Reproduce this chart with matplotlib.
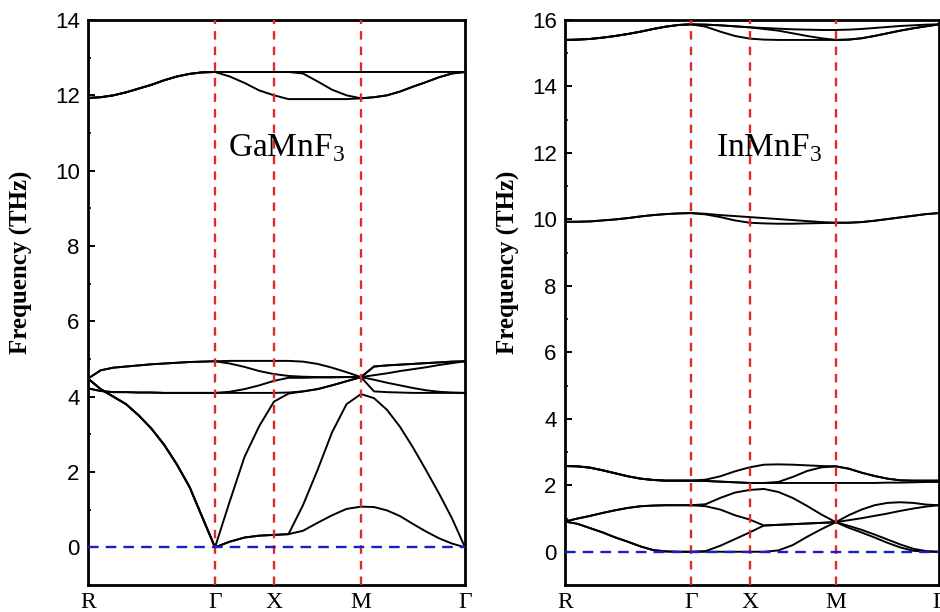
import matplotlib
matplotlib.use('Agg')
import matplotlib.pyplot as plt
from matplotlib.ticker import MultipleLocator
import numpy as np

plt.rcParams['font.family'] = 'Liberation Sans'
plt.rcParams['mathtext.fontset'] = 'custom'
plt.rcParams['mathtext.rm'] = 'Liberation Serif'

# high-symmetry path R - G - X - M - G, sample counts per segment
k_nodes = [0, 127, 186, 273, 377]
k_steps = [10, 4, 6, 8]
k_labels = ['R', 'Γ', 'X', 'M', 'Γ']

# ---------------- GaMnF3 (THz) ----------------
ga_acou_rg = [4.48, 4.2, 4.0, 3.8, 3.5, 3.15, 2.72, 2.2, 1.6, 0.8, 0.0]
ga_flat_rg = [4.22, 4.15, 4.12, 4.12, 4.11, 4.11, 4.1, 4.1, 4.1, 4.1, 4.1]
ga_top_rg = [4.48, 4.7, 4.77, 4.8, 4.83, 4.86, 4.88, 4.9, 4.92, 4.93, 4.94]
ga_high_rg = [11.93, 11.95, 12.0, 12.08, 12.18, 12.28, 12.4, 12.5, 12.57, 12.61, 12.62]
ga_top_mg = [4.8, 4.83, 4.85, 4.87, 4.89, 4.91, 4.93, 4.94]
ga_high_mg = [11.95, 12.0, 12.1, 12.23, 12.35, 12.48, 12.58, 12.62]

ga_bands = [
    ga_acou_rg + [0.15, 0.26, 0.31, 0.33] + [0.35, 0.44, 0.65, 0.85, 1.02, 1.08] + [1.07, 0.98, 0.83, 0.62, 0.42, 0.24, 0.1, 0.0],
    ga_acou_rg + [0.15, 0.26, 0.31, 0.33] + [0.35, 1.12, 2.05, 3.05, 3.8, 4.07] + [3.96, 3.65, 3.2, 2.65, 2.05, 1.43, 0.77, 0.0],
    ga_acou_rg + [1.22, 2.4, 3.22, 3.87] + [4.08, 4.14, 4.2, 4.3, 4.41, 4.52] + [4.14, 4.12, 4.11, 4.1, 4.1, 4.1, 4.1, 4.1],
    ga_flat_rg + [4.1, 4.1, 4.1, 4.1] + [4.11, 4.14, 4.2, 4.3, 4.41, 4.52] + [4.45, 4.37, 4.3, 4.23, 4.17, 4.13, 4.11, 4.1],
    ga_flat_rg + [4.13, 4.2, 4.3, 4.42] + [4.5, 4.5, 4.51, 4.51, 4.52, 4.52] + [4.57, 4.62, 4.68, 4.73, 4.78, 4.84, 4.89, 4.94],
    ga_top_rg + [4.88, 4.79, 4.68, 4.6] + [4.55, 4.53, 4.52, 4.52, 4.52, 4.52] + ga_top_mg,
    ga_top_rg + [4.95, 4.95, 4.95, 4.95] + [4.95, 4.93, 4.87, 4.77, 4.65, 4.52] + ga_top_mg,
    ga_high_rg + [12.5, 12.33, 12.13, 12.0] + [11.9, 11.9, 11.9, 11.9, 11.9, 11.92] + ga_high_mg,
    ga_high_rg + [12.62, 12.62, 12.62, 12.62] + [12.62, 12.58, 12.37, 12.15, 12.0, 11.92] + ga_high_mg,
    ga_high_rg + [12.62, 12.62, 12.62, 12.62] + [12.62, 12.62, 12.62, 12.62, 12.62, 12.62] + [12.62, 12.62, 12.62, 12.62, 12.62, 12.62, 12.62, 12.62],
]

# ---------------- InMnF3 (THz) ----------------
in_low_rg = [0.91, 0.84, 0.71, 0.58, 0.43, 0.3, 0.16, 0.05, 0.01, 0.0, 0.0]
in_up_rg = [0.91, 1.0, 1.08, 1.17, 1.25, 1.32, 1.37, 1.39, 1.4, 1.4, 1.4]
in_mid_rg = [2.58, 2.57, 2.53, 2.45, 2.36, 2.27, 2.2, 2.16, 2.14, 2.14, 2.14]
in_ten_rg = [9.93, 9.93, 9.94, 9.97, 10.0, 10.04, 10.09, 10.13, 10.16, 10.18, 10.19]
in_high_rg = [15.4, 15.41, 15.43, 15.47, 15.52, 15.58, 15.65, 15.73, 15.8, 15.85, 15.87]
in_mid_mg = [2.5, 2.38, 2.28, 2.2, 2.15, 2.14, 2.14, 2.14]
in_ten_mg = [9.9, 9.92, 9.96, 10.01, 10.06, 10.11, 10.16, 10.19]
in_high_mg = [15.41, 15.45, 15.52, 15.6, 15.68, 15.75, 15.81, 15.87]

in_bands = [
    in_low_rg + [0.0, 0.0, 0.0, 0.0] + [0.0, 0.04, 0.2, 0.45, 0.68, 0.89] + [0.72, 0.58, 0.43, 0.27, 0.13, 0.03, 0.0, 0.0],
    in_low_rg + [0.02, 0.18, 0.38, 0.58] + [0.79, 0.81, 0.83, 0.85, 0.87, 0.89] + [0.78, 0.66, 0.52, 0.37, 0.22, 0.09, 0.02, 0.0],
    in_up_rg + [1.37, 1.27, 1.1, 0.97] + [0.79, 0.81, 0.83, 0.85, 0.87, 0.89] + [0.95, 1.01, 1.08, 1.15, 1.23, 1.3, 1.36, 1.4],
    in_up_rg + [1.43, 1.62, 1.78, 1.86] + [1.89, 1.8, 1.62, 1.38, 1.12, 0.89] + [1.1, 1.27, 1.4, 1.47, 1.49, 1.47, 1.42, 1.4],
    in_mid_rg + [2.13, 2.11, 2.09, 2.07] + [2.07, 2.07, 2.07, 2.07, 2.07, 2.07] + [2.07, 2.07, 2.07, 2.08, 2.08, 2.09, 2.1, 2.1],
    in_mid_rg + [2.17, 2.27, 2.42, 2.54] + [2.62, 2.63, 2.62, 2.6, 2.58, 2.57] + in_mid_mg,
    in_mid_rg + [2.13, 2.11, 2.09, 2.07] + [2.07, 2.1, 2.25, 2.43, 2.54, 2.57] + in_mid_mg,
    in_ten_rg + [10.15, 10.07, 9.97, 9.9] + [9.88, 9.87, 9.87, 9.88, 9.89, 9.9] + in_ten_mg,
    in_ten_rg + [10.17, 10.13, 10.1, 10.07] + [10.04, 10.01, 9.98, 9.95, 9.92, 9.9] + in_ten_mg,
    in_high_rg + [15.8, 15.65, 15.52, 15.44] + [15.41, 15.4, 15.4, 15.4, 15.4, 15.4] + in_high_mg,
    in_high_rg + [15.86, 15.84, 15.81, 15.78] + [15.73, 15.68, 15.6, 15.52, 15.45, 15.4] + in_high_mg,
    in_high_rg + [15.86, 15.84, 15.81, 15.78] + [15.76, 15.74, 15.72, 15.71, 15.7, 15.7] + [15.71, 15.73, 15.76, 15.79, 15.82, 15.84, 15.86, 15.87],
]

# k sample positions along the path
k = [k_nodes[0]]
for i, n in enumerate(k_steps):
    k += list(np.linspace(k_nodes[i], k_nodes[i + 1], n + 1)[1:])

fig = plt.figure(figsize=(9.4, 6.12), dpi=100)
ax1 = fig.add_axes([88 / 940, 27 / 612, 377 / 940, 565 / 612])
ax2 = fig.add_axes([565 / 940, 27 / 612, 374 / 940, 565 / 612])

panels = [
    (ax1, ga_bands, 14, r'GaMnF$_\mathrm{3}$', (140, 10.37), -0.146),
    (ax2, in_bands, 16, r'InMnF$_\mathrm{3}$', (152, 11.89), -0.12),
]

for ax, bands, top, name, pos, lab_x in panels:
    for b in bands:
        ax.plot(k, b, color='black', lw=1.4, zorder=2)
    for kn in k_nodes[1:-1]:
        ax.axvline(kn, color='#dd2a2a', lw=1.7, ls=(0, (3.6, 3.0)), zorder=3)
    ax.axhline(0, color='#1c1cc8', lw=1.7, ls=(0, (4.5, 3.0)), zorder=3)

    ax.set_xlim(k_nodes[0], k_nodes[-1])
    ax.set_ylim(-1, top)
    ax.set_xticks(k_nodes)
    ax.set_xticklabels(k_labels, fontfamily='Liberation Serif', fontsize=17)
    ax.tick_params(axis='x', length=0, pad=5)
    ax.yaxis.set_major_locator(MultipleLocator(2))
    ax.yaxis.set_minor_locator(MultipleLocator(1))
    ax.tick_params(axis='y', which='major', direction='in', length=5, width=1.4, labelsize=16, pad=6)
    ax.tick_params(axis='y', which='minor', direction='in', length=2.5, width=1.2)
    for sp in ax.spines.values():
        sp.set_linewidth(2.0)

    ax.set_ylabel('Frequency (THz)', fontfamily='Liberation Serif', fontweight='bold', fontsize=18)
    ax.yaxis.set_label_coords(lab_x, 0.571)
    ax.text(pos[0], pos[1], name, fontfamily='Liberation Serif', fontsize=24, ha='left', va='baseline')

plt.savefig('out.png', dpi=100)
